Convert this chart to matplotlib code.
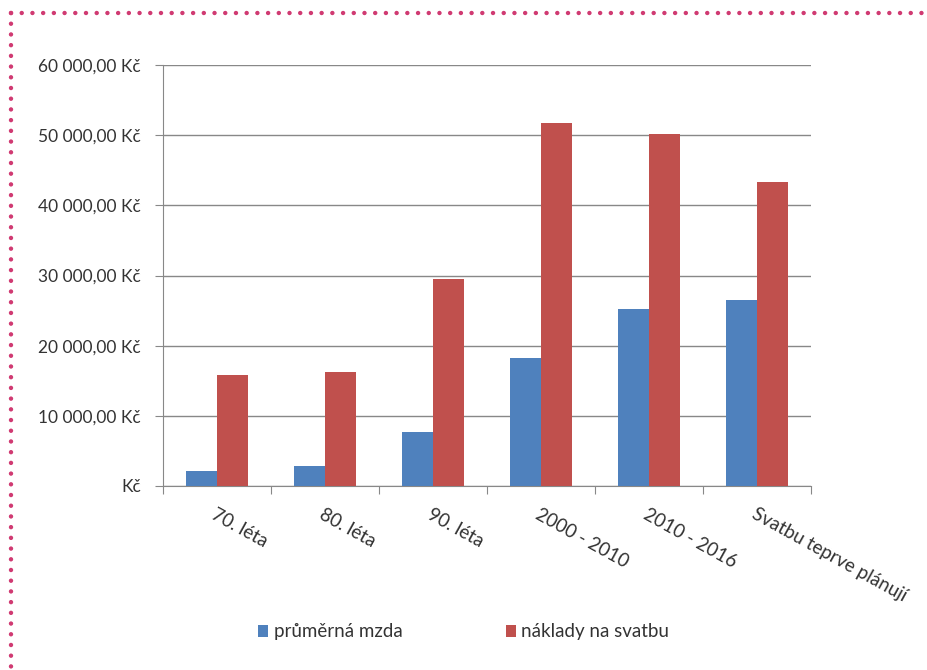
import matplotlib
matplotlib.use("Agg")
import matplotlib.pyplot as plt
from matplotlib.lines import Line2D
import numpy as np

categories = ["70. léta", "80. léta", "90. léta", "2000 - 2010", "2010 - 2016", "Svatbu teprve plánují"]
prumerna_mzda = [2180, 2850, 7650, 18280, 25170, 26450]
naklady_svatba = [15860, 16200, 29500, 51750, 50190, 43350]
series_names = ["průměrná mzda", "náklady na svatbu"]
yticks = [0, 10000, 20000, 30000, 40000, 50000, 60000]
ytick_labels = ["Kč", "10 000,00 Kč", "20 000,00 Kč", "30 000,00 Kč", "40 000,00 Kč", "50 000,00 Kč", "60 000,00 Kč"]

plt.rcParams['font.family'] = ['Lato', 'DejaVu Sans']

W, H = 927, 670
fig = plt.figure(figsize=(W/100, H/100), dpi=100)
ax = fig.add_axes([163/W, 1-486/H, (811-163)/W, (486-65)/H])

x = np.arange(len(categories))
bw = 0.283
blue = "#4f81bd"
red = "#c0504d"
ax.bar(x - bw/2, prumerna_mzda, bw, color=blue, label=series_names[0], zorder=3)
ax.bar(x + bw/2, naklady_svatba, bw, color=red, label=series_names[1], zorder=3)

ax.set_xlim(-0.5, len(categories) - 0.5)
ax.set_ylim(0, 60000)
ax.set_yticks(yticks)
ax.set_yticklabels(ytick_labels, fontsize=12.5, color="#333333")
ax.set_xticks(np.arange(len(categories) + 1) - 0.5)
ax.set_xticklabels([])
ax.set_xticks(x, minor=True)
ax.set_xticklabels(categories, minor=True, rotation=-29, ha="left", va="top",
                   rotation_mode="anchor", fontsize=13.5, color="#333333")
ax.tick_params(axis="x", which="minor", length=0, pad=14)
ax.tick_params(axis="x", which="major", length=6, color="#888888")
ax.tick_params(axis="y", length=6, color="#888888", pad=10)
ax.grid(axis="y", color="#888888", linewidth=1.0, zorder=0)
for s in ["top", "right"]:
    ax.spines[s].set_visible(False)
for s in ["left", "bottom"]:
    ax.spines[s].set_color("#888888")

leg = fig.legend(loc="center", bbox_to_anchor=(0.5, 1-632/H), ncol=2, frameon=False,
                 fontsize=13.5, handlelength=0.55, handleheight=0.55, handletextpad=0.3,
                 columnspacing=5.5)
for t in leg.get_texts():
    t.set_color("#333333")

dot = "#d03a72"
fig.add_artist(Line2D([11/W, 1.0], [1-13/H, 1-13/H], transform=fig.transFigure,
                      color=dot, linewidth=3.2, linestyle=(0, (0.01, 2.4)),
                      dash_capstyle="round"))
fig.add_artist(Line2D([11/W, 11/W], [1-13/H, 0.0], transform=fig.transFigure,
                      color=dot, linewidth=3.2, linestyle=(0, (0.01, 2.4)),
                      dash_capstyle="round"))

fig.savefig("out.png", dpi=100)
